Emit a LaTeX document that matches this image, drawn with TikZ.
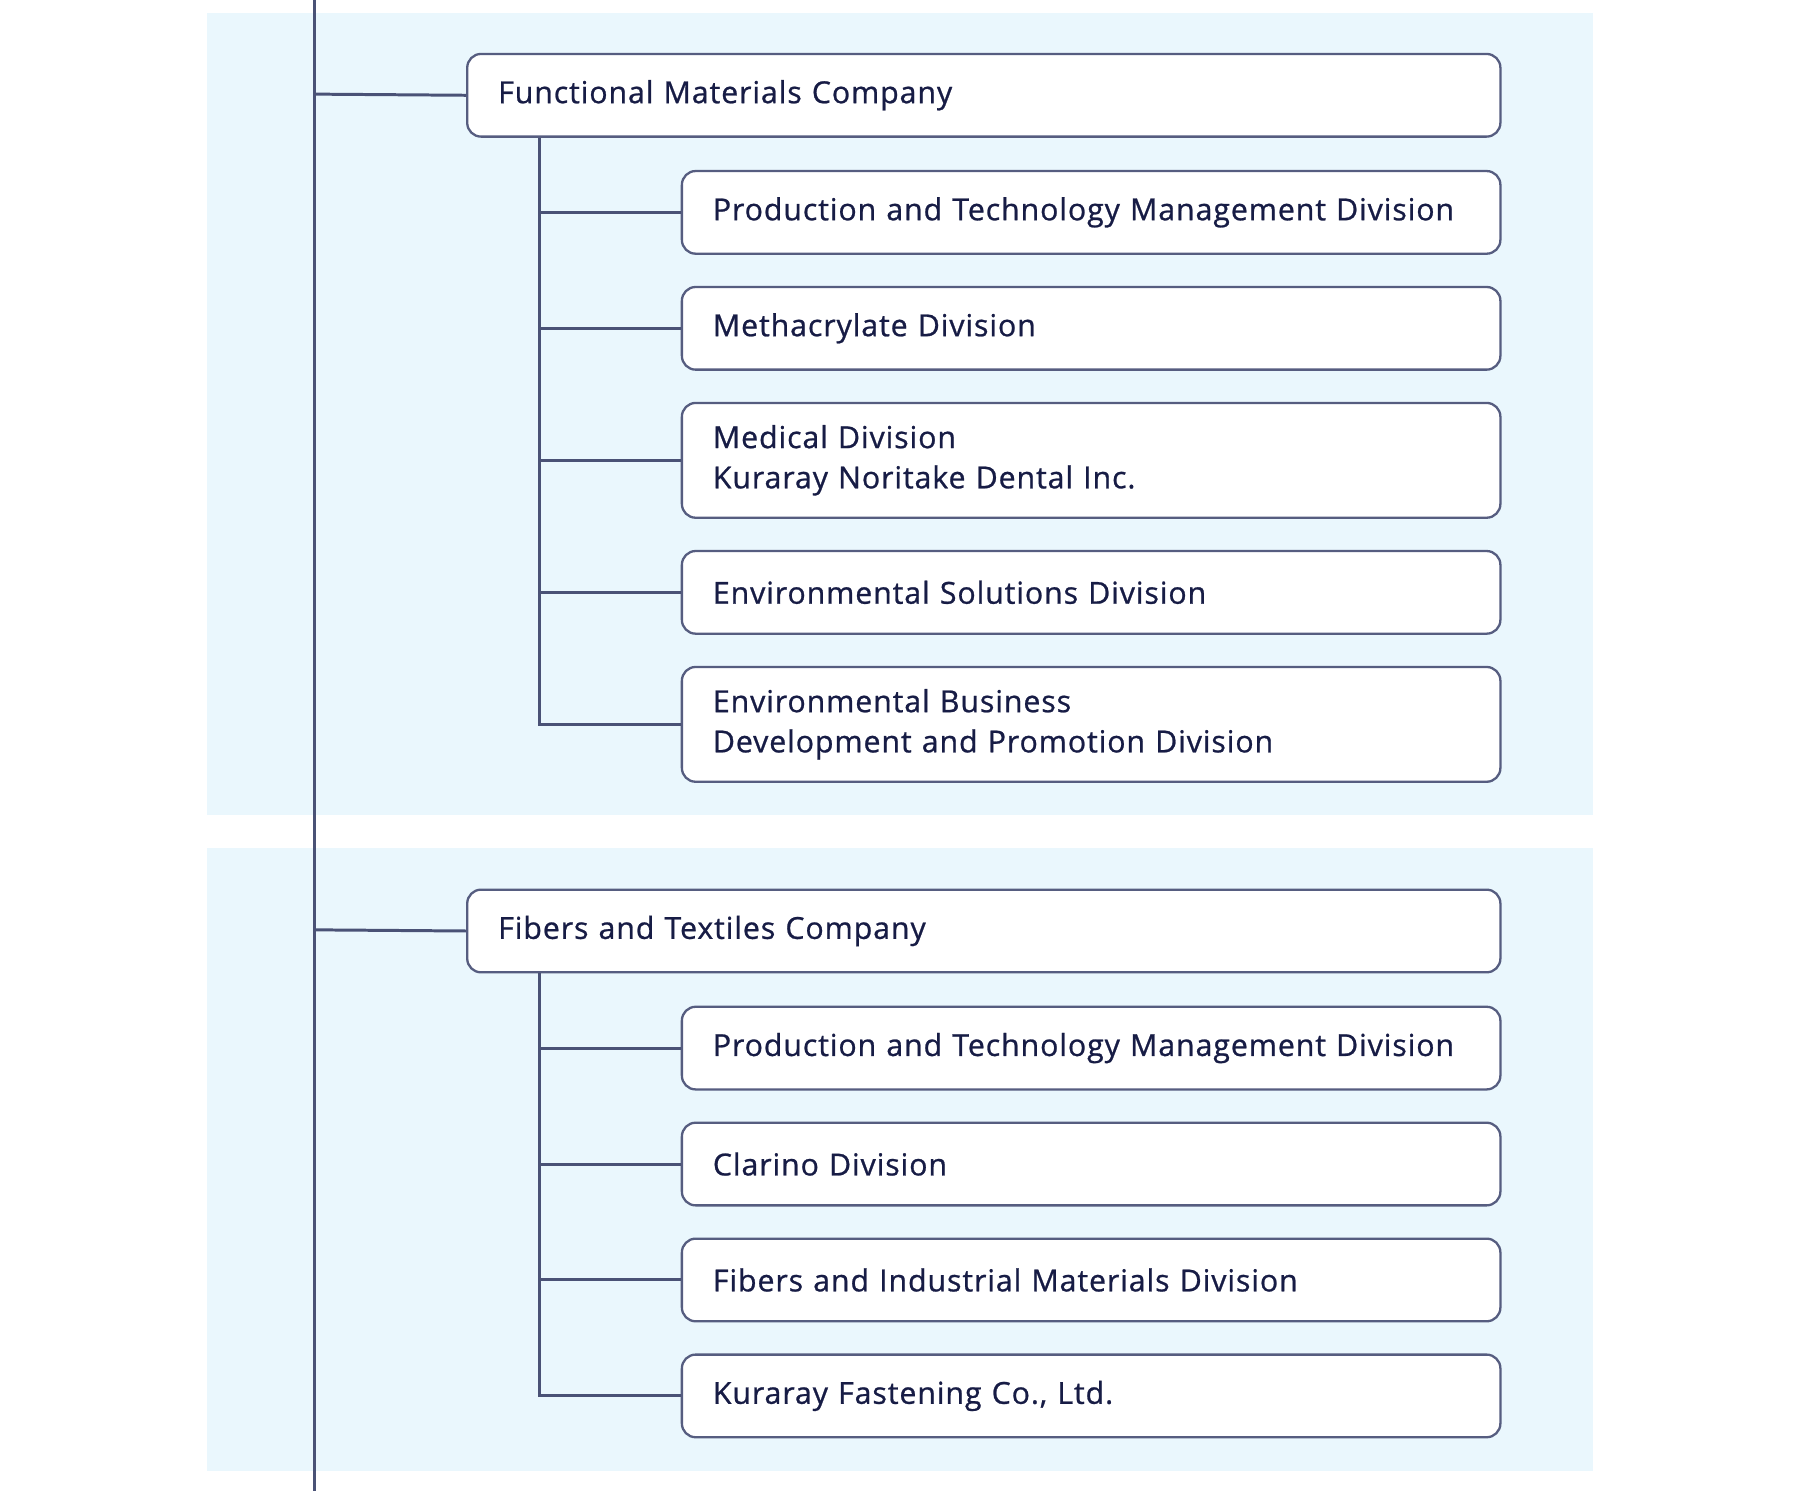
\documentclass[tikz,border=0pt]{standalone}
\usepackage{fontspec}
\setmainfont{Open Sans}
\definecolor{bgc}{HTML}{EAF7FD}
\definecolor{ln}{HTML}{4A5276}
\definecolor{bd}{HTML}{565D80}
\definecolor{tx}{HTML}{171C45}
\begin{document}
\begin{tikzpicture}[x=0.5pt,y=-0.5pt,
  bx/.style={draw=bd,line width=1pt,fill=white,rounded corners=6pt,anchor=north west,
    inner xsep=13.5pt,inner ysep=0pt,align=left,text=tx,font=\fontsize{13.2}{17.5}\selectfont\addfontfeatures{LetterSpace=3,FakeBold=0.8}},
  co/.style={bx,minimum width=450pt,text width=423pt,minimum height=36pt},
  ch/.style={bx,minimum width=356.5pt,text width=329.5pt,minimum height=36pt},
  tall/.style={minimum height=50pt},
  cn/.style={draw=ln,line width=1.3pt}]
\useasboundingbox (0,0) rectangle (1568,1299);
\fill[bgc] (180,11) rectangle (1388,710);
\fill[bgc] (180,739) rectangle (1388,1281);
\coordinate (top) at (274,0); \coordinate (bot) at (274,1299);
\draw[cn] (top) -- (bot);
\node[co] (fm) at (406,46) {Functional Materials Company};
\node[ch] (a1) at (593,148) {Production and Technology Management Division};
\node[ch] (a2) at (593,249) {Methacrylate Division};
\node[ch,tall] (a3) at (593,350) {Medical Division\\Kuraray Noritake Dental Inc.};
\node[ch] (a4) at (593,479) {Environmental Solutions Division};
\node[ch,tall] (a5) at (593,580) {Environmental Business\\Development and Promotion Division};
\node[co] (ft) at (406,774) {Fibers and Textiles Company};
\node[ch] (b1) at (593,876) {Production and Technology Management Division};
\node[ch] (b2) at (593,977) {Clarino Division};
\node[ch] (b3) at (593,1078) {Fibers and Industrial Materials Division};
\node[ch] (b4) at (593,1179) {Kuraray Fastening Co., Ltd.};
\draw[cn] (274,82) -- (fm.west);
\draw[cn] (274,810) -- (ft.west);
\draw[cn] (fm.south west) ++(64,0) coordinate (fa) |- (a5.west);
\foreach \n in {a1,a2,a3,a4} \draw[cn] (fa |- \n.west) -- (\n.west);
\draw[cn] (ft.south west) ++(64,0) coordinate (fb) |- (b4.west);
\foreach \n in {b1,b2,b3} \draw[cn] (fb |- \n.west) -- (\n.west);
\end{tikzpicture}
\end{document}
